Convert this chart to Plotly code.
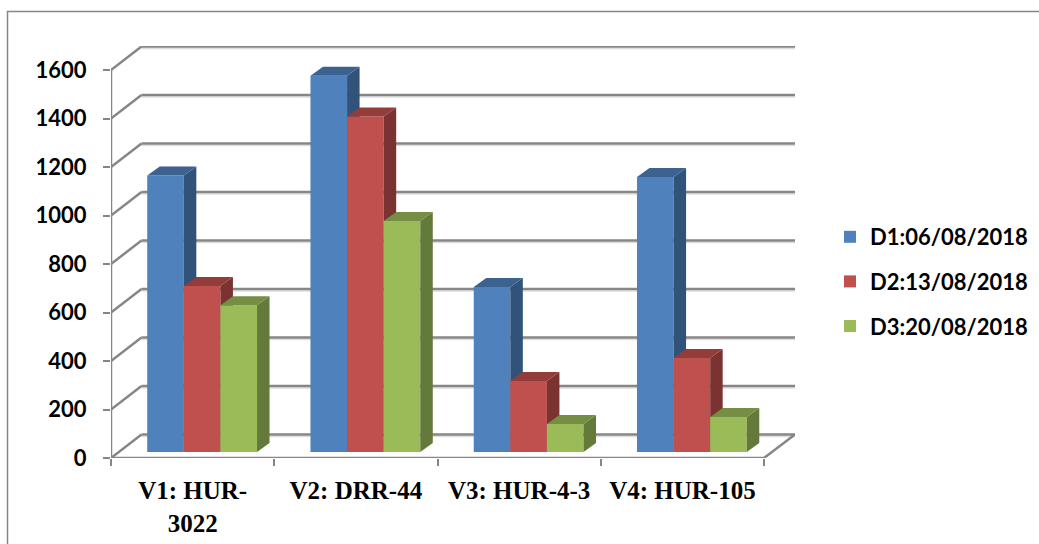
import plotly.graph_objects as go

categories = ["V1: HUR-<br>3022", "V2: DRR-44", "V3: HUR-4-3", "V4: HUR-105"]
series_names = ["D1:06/08/2018", "D2:13/08/2018", "D3:20/08/2018"]
d1_values = [1140, 1552, 680, 1134]
d2_values = [685, 1383, 293, 388]
d3_values = [605, 953, 115, 144]
y_ticks = [0, 200, 400, 600, 800, 1000, 1200, 1400, 1600]

series_values = [d1_values, d2_values, d3_values]
front = ["#4F81BD", "#C0504D", "#9BBB59"]
top = ["#3C6290", "#923D3A", "#768E43"]
side = ["#325379", "#7B3331", "#647A3A"]
GRID = "#868686"
SHADOW = "#DEDEDE"

W, H = 1039, 544
X0, X1 = 111.0, 764.0
X_END = 795.0
Y0, Y_TOP = 458.0, 46.0
PX_PER_VAL = 388.0 / 1600
PX_PER_CAT = (X1 - X0) / 4

xr = [0, (X_END - X0) / PX_PER_CAT]
yr = [0, (Y0 - Y_TOP) / PX_PER_VAL]
xdom = [X0 / W, X_END / W]
ydom = [(H - Y0) / H, (H - Y_TOP) / H]

wall_dx = 30.5 / PX_PER_CAT
wall_dy = 23.5 / PX_PER_VAL
bar_w = 36.6 / PX_PER_CAT
bar_lift = 6.0 / PX_PER_VAL
bar_shift = 9.5 / PX_PER_CAT
dep_x = 12.5 / PX_PER_CAT
dep_y = 9.0 / PX_PER_VAL
shadow_dy = 2.0 / PX_PER_VAL

fig = go.Figure()

# faint shadow below the back-wall lines
shx, shy = [], []
for v in y_ticks:
    shx += [wall_dx, xr[1], None]
    shy += [v + wall_dy - shadow_dy, v + wall_dy - shadow_dy, None]
fig.add_trace(go.Scatter(x=shx, y=shy, mode="lines", line=dict(color=SHADOW, width=1.5),
                         showlegend=False, hoverinfo="skip", xaxis="x", yaxis="y"))

# wall and floor lines
gx, gy = [], []
for v in y_ticks:
    gx += [0, wall_dx, None]
    gy += [v, v + wall_dy, None]
    if v > 0:
        gx += [wall_dx, xr[1], None]
        gy += [v + wall_dy, v + wall_dy, None]
gx += [wall_dx, xr[1], 4, 0, 0]
gy += [wall_dy, wall_dy, 0, 0, y_ticks[-1]]
fig.add_trace(go.Scatter(x=gx, y=gy, mode="lines", line=dict(color=GRID, width=2.5),
                         showlegend=False, hoverinfo="skip", xaxis="x", yaxis="y"))

for j, (name, vals) in enumerate(zip(series_names, series_values)):
    ax = str(j + 2)
    xs = [i + 0.5 + bar_shift + (j - 1) * bar_w for i in range(4)]
    fig.add_trace(go.Bar(x=xs, y=vals, base=[bar_lift] * 4, width=bar_w, name=name,
                         legendgroup=name, marker=dict(color=front[j], line=dict(width=0)),
                         xaxis="x" + ax, yaxis="y" + ax))
    sx, sy, tx, ty = [], [], [], []
    for x, v in zip(xs, vals):
        r = x + bar_w / 2
        l = x - bar_w / 2
        t = v + bar_lift
        sx += [r, r + dep_x, r + dep_x, r, r, None]
        sy += [bar_lift, bar_lift + dep_y, t + dep_y, t, bar_lift, None]
        tx += [l, l + dep_x, r + dep_x, r, l, None]
        ty += [t, t + dep_y, t + dep_y, t, t, None]
    for px, py, c in ((sx, sy, side[j]), (tx, ty, top[j])):
        fig.add_trace(go.Scatter(x=px, y=py, mode="lines", fill="toself", fillcolor=c,
                                 line=dict(width=0, color=c), showlegend=False,
                                 hoverinfo="skip", xaxis="x" + ax, yaxis="y" + ax))

layout = dict(
    width=W, height=H, autosize=False,
    margin=dict(l=0, r=0, t=0, b=0, autoexpand=False),
    paper_bgcolor="white", plot_bgcolor="white",
    barmode="overlay",
    xaxis=dict(domain=xdom, range=xr, tickmode="array", tickvals=[0.5, 1.5, 2.5, 3.5],
               ticktext=categories, ticks="", showgrid=False, zeroline=False, showline=False,
               automargin=False, ticklabelstandoff=15,
               tickfont=dict(family="Liberation Serif", size=25, color="black", weight="bold"),
               minor=dict(tickmode="array", tickvals=[0, 1, 2, 3, 4], ticks="outside", ticklen=7,
                          tickwidth=2, tickcolor=GRID, showgrid=False)),
    yaxis=dict(domain=ydom, range=yr, tickmode="array", tickvals=y_ticks, ticks="outside",
               ticklen=7, tickwidth=2, tickcolor=GRID, showgrid=False, zeroline=False,
               showline=False, automargin=False, ticklabelstandoff=12,
               tickfont=dict(family="Lato", size=22, color="black", weight="bold")),
    legend=dict(x=830 / W, y=(H - 216) / H, xanchor="left", yanchor="top",
                tracegroupgap=13, font=dict(family="Lato", size=22, color="black", weight="bold"),
                bgcolor="rgba(0,0,0,0)"),
    shapes=[dict(type="path", xref="paper", yref="paper",
                 path=f"M {7.5/W} 0 L {7.5/W} {(H-11.5)/H} L 1 {(H-11.5)/H}",
                 line=dict(color=GRID, width=1.5))],
)
for k in (2, 3, 4):
    layout[f"xaxis{k}"] = dict(domain=xdom, range=xr, overlaying="x", visible=False)
    layout[f"yaxis{k}"] = dict(domain=ydom, range=yr, overlaying="y", visible=False)
fig.update_layout(**layout)

fig.write_html("out.html", config={"displayModeBar": False},
               post_script="document.body.style.margin='0';")
